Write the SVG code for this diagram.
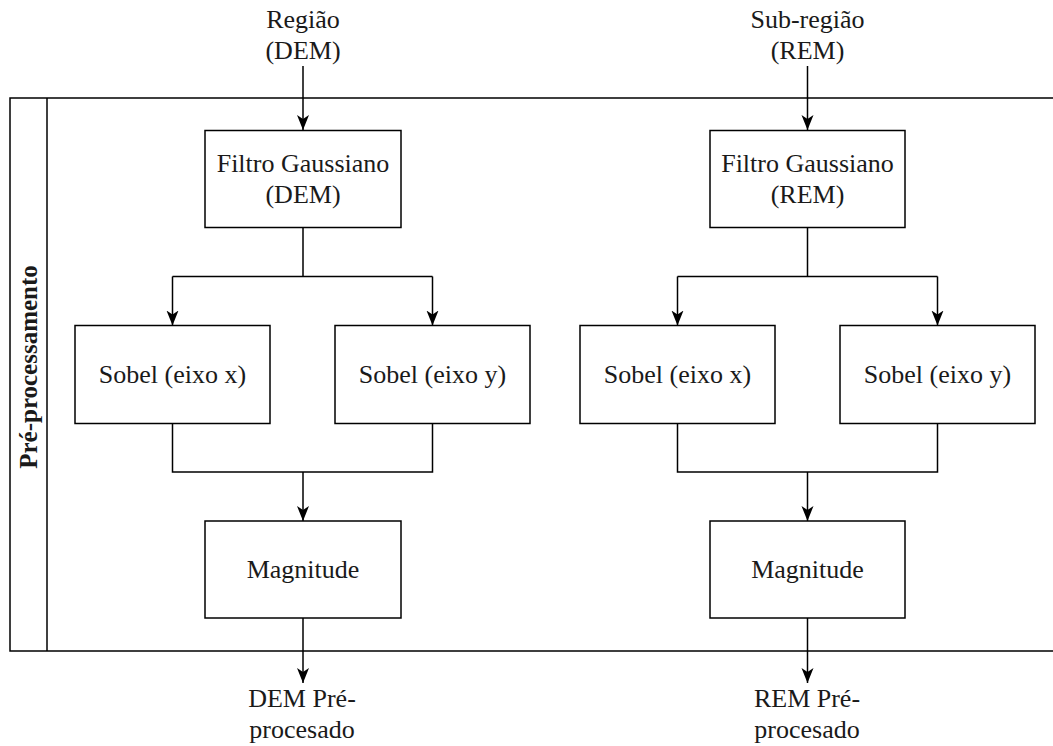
<svg xmlns="http://www.w3.org/2000/svg" width="1053" height="746" viewBox="0 0 1053 746">
  <style>
    .box { fill: #ffffff; stroke: #000000; stroke-width: 1.5; }
    .frame { fill: none; stroke: #000000; stroke-width: 1.5; }
    .edge { fill: none; stroke: #000000; stroke-width: 1.5; }
    .arrow { fill: none; stroke: #000000; stroke-width: 1.5; marker-end: url(#arr); }
    text { font-family: 'Liberation Serif', 'DejaVu Serif', serif; font-size: 26px; font-weight: normal; fill: #1a1a1a; text-anchor: middle; }
    .title { font-weight: bold; font-size: 25px; }
  </style>
  <defs>
    <marker id="arr" markerUnits="userSpaceOnUse" markerWidth="16" markerHeight="14" refX="15" refY="7" orient="auto">
      <path d="M0,1 L15,7 L0,13 L4,7 Z" fill="#000000"/>
    </marker>
  </defs>
  <rect width="1053" height="746" fill="#ffffff"/>

  <g id="container">
    <path class="frame" d="M1060,98 L10,98 L10,651 L1060,651"/>
    <line class="frame" x1="47" y1="98" x2="47" y2="651"/>
    <text class="title" transform="translate(37,367) rotate(-90)" x="0" y="0">Pré-processamento</text>
  </g>

  <g id="connectors">
    <line class="arrow" x1="303" y1="66" x2="303" y2="130"/>
    <path class="edge" d="M303,227 L303,276.5 M172.5,276.5 L432.5,276.5"/>
    <line class="arrow" x1="172.5" y1="276.5" x2="172.5" y2="325.5"/>
    <line class="arrow" x1="432.5" y1="276.5" x2="432.5" y2="325.5"/>
    <path class="edge" d="M172.5,423.5 L172.5,472 L432.5,472 L432.5,423.5"/>
    <line class="arrow" x1="303" y1="472" x2="303" y2="521"/>
    <line class="arrow" x1="303" y1="618" x2="303" y2="683"/>
    <line class="arrow" x1="807.5" y1="66" x2="807.5" y2="130"/>
    <path class="edge" d="M807.5,227 L807.5,276.5 M677.5,276.5 L937.5,276.5"/>
    <line class="arrow" x1="677.5" y1="276.5" x2="677.5" y2="325.5"/>
    <line class="arrow" x1="937.5" y1="276.5" x2="937.5" y2="325.5"/>
    <path class="edge" d="M677.5,423.5 L677.5,472 L937.5,472 L937.5,423.5"/>
    <line class="arrow" x1="807.5" y1="472" x2="807.5" y2="521"/>
    <line class="arrow" x1="807.5" y1="618" x2="807.5" y2="683"/>
  </g>

  <g id="input-dem">
    <text x="303" y="28">Região</text>
    <text x="303" y="59">(DEM)</text>
  </g>
  <g id="input-rem">
    <text x="807.5" y="28">Sub-região</text>
    <text x="807.5" y="59">(REM)</text>
  </g>

  <g id="gauss-dem">
    <rect class="box" x="205" y="130.5" width="196" height="97"/>
    <text x="303" y="172">Filtro Gaussiano</text>
    <text x="303" y="203">(DEM)</text>
  </g>
  <g id="sobelx-dem">
    <rect class="box" x="75" y="325.5" width="195" height="98"/>
    <text x="172.5" y="383">Sobel (eixo x)</text>
  </g>
  <g id="sobely-dem">
    <rect class="box" x="335" y="325.5" width="195" height="98"/>
    <text x="432.5" y="383">Sobel (eixo y)</text>
  </g>
  <g id="mag-dem">
    <rect class="box" x="205" y="521" width="196" height="97"/>
    <text x="303" y="578">Magnitude</text>
  </g>

  <g id="gauss-rem">
    <rect class="box" x="710" y="130.5" width="195" height="97"/>
    <text x="807.5" y="172">Filtro Gaussiano</text>
    <text x="807.5" y="203">(REM)</text>
  </g>
  <g id="sobelx-rem">
    <rect class="box" x="580" y="325.5" width="195" height="98"/>
    <text x="677.5" y="383">Sobel (eixo x)</text>
  </g>
  <g id="sobely-rem">
    <rect class="box" x="840" y="325.5" width="195" height="98"/>
    <text x="937.5" y="383">Sobel (eixo y)</text>
  </g>
  <g id="mag-rem">
    <rect class="box" x="710" y="521" width="195" height="97"/>
    <text x="807.5" y="578">Magnitude</text>
  </g>

  <g id="output-dem">
    <text x="302" y="707">DEM Pré-</text>
    <text x="302" y="738">procesado</text>
  </g>
  <g id="output-rem">
    <text x="807" y="707">REM Pré-</text>
    <text x="807" y="738">procesado</text>
  </g>
</svg>
